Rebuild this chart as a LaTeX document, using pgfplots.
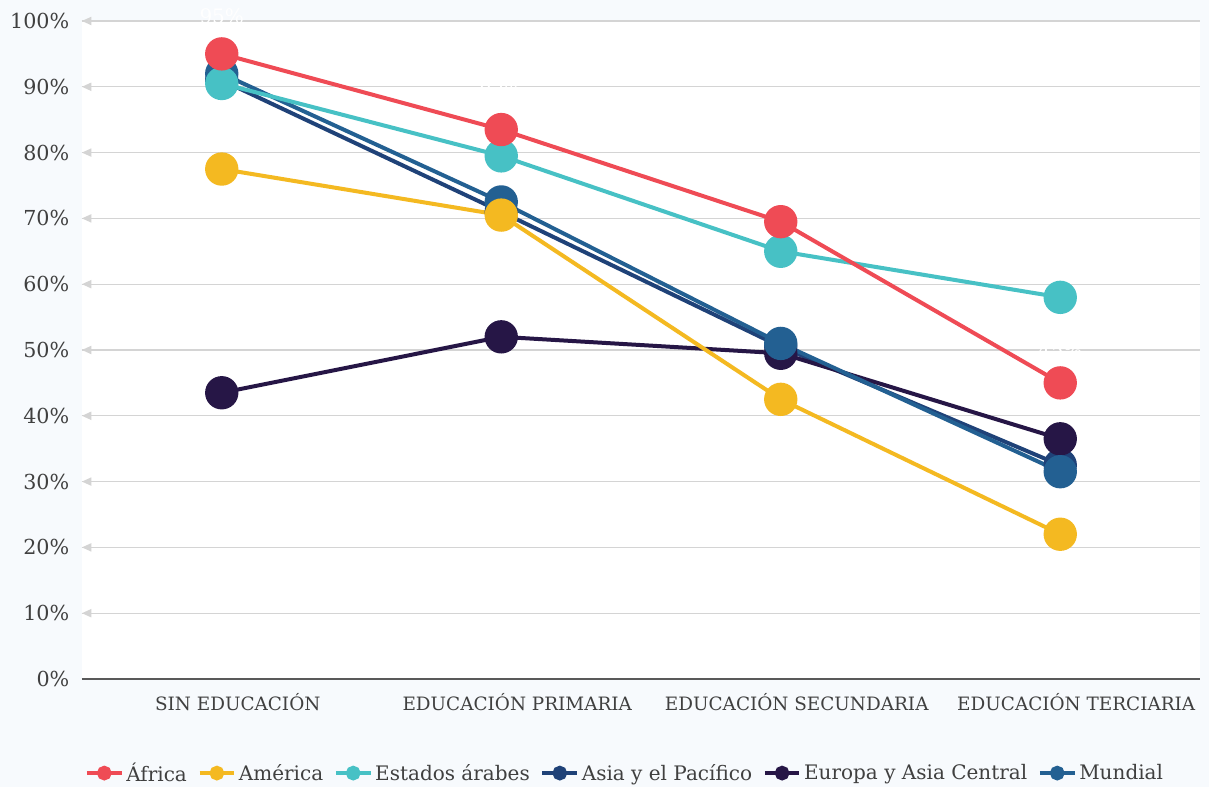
\documentclass[border=0pt]{standalone}
\usepackage{pgfplots}
\pgfplotsset{compat=1.18}
\usepackage{fontspec}
\setmainfont{DejaVu Serif}
\definecolor{bg}{HTML}{F7FAFD}
\definecolor{cAfr}{HTML}{EF4B55}
\definecolor{cAme}{HTML}{F4B921}
\definecolor{cEst}{HTML}{47C1C5}
\definecolor{cAsi}{HTML}{1F4278}
\definecolor{cEur}{HTML}{261646}
\definecolor{cMun}{HTML}{236092}
\definecolor{gridc}{HTML}{D4D4D4}
\definecolor{txt}{HTML}{404040}
\definecolor{axc}{HTML}{595959}
\begin{document}
\begin{tikzpicture}
\fill[bg] (0,0) rectangle (906.75pt,590.25pt);
\begin{axis}[
  at={(61.5pt,81pt)}, anchor=south west,
  scale only axis, width=838.5pt, height=493.5pt,
  xmin=-0.5, xmax=3.5, ymin=0, ymax=100,
  xtick={0,1,2,3},
  xticklabels={SIN EDUCACIÓN, EDUCACIÓN PRIMARIA, EDUCACIÓN SECUNDARIA, EDUCACIÓN TERCIARIA},
  ytick={0,10,...,100},
  yticklabel={\pgfmathprintnumber{\tick}\%},
  /pgf/number format/assume math mode=true,
  major tick length=0pt,
  axis background/.style={fill=white},
  axis x line*=bottom, axis y line*=left,
  x axis line style={draw=axc, line width=1.6pt, -},
  y axis line style={draw=none},
  ymajorgrids,
  major grid style={draw=gridc, line width=1pt},
  yticklabel style={font=\fontsize{15.5}{18}\selectfont, text=txt, xshift=-6pt},
  xticklabel style={font=\fontsize{13.8}{16}\selectfont, text=txt, yshift=-7pt, xshift=12pt},
  clip=false,
  legend style={at={(0.486,-0.143)}, anchor=center, draw=none, fill=none,
    legend columns=6, font=\fontsize{15}{18}\selectfont, text=txt,
    /tikz/every even column/.append style={column sep=6pt}, inner sep=0pt},
  legend cell align=left,
  legend image code/.code={
    \draw[line width=3pt] (0pt,0pt) -- (26pt,0pt);
    \fill (13pt,0pt) circle (4pt);
  },
  every axis plot/.append style={line width=3pt, mark=*, mark size=11pt, mark options={solid}},
]
\addlegendimage{cAfr}\addlegendentry{África}
\addlegendimage{cAme}\addlegendentry{América}
\addlegendimage{cEst}\addlegendentry{Estados árabes}
\addlegendimage{cAsi}\addlegendentry{Asia y el Pacífico}
\addlegendimage{cEur}\addlegendentry{Europa y Asia Central}
\addlegendimage{cMun}\addlegendentry{Mundial}
\foreach \y in {10,20,...,100} {
  \edef\temp{\noexpand\fill[gridc] (axis cs:-0.5,\y) -- ([xshift=7pt,yshift=3.2pt]axis cs:-0.5,\y) -- ([xshift=7pt,yshift=-3.2pt]axis cs:-0.5,\y) -- cycle;}
  \temp
}
% Asia y el Pacifico
\addplot[color=cAsi, forget plot] coordinates {(0,91) (1,71) (2,50.5) (3,32.5)};
% Europa y Asia Central
\addplot[color=cEur, forget plot] coordinates {(0,43.5) (1,52) (2,49.5) (3,36.5)};
% Mundial
\addplot[color=cMun, forget plot] coordinates {(0,92) (1,72.5) (2,51) (3,31.5)};
% America
\addplot[color=cAme, forget plot] coordinates {(0,77.5) (1,70.5) (2,42.5) (3,22)};
% Estados arabes
\addplot[color=cEst, forget plot] coordinates {(0,90.5) (1,79.5) (2,65) (3,58)};
% Africa
\addplot[color=cAfr, forget plot] coordinates {(0,95) (1,83.5) (2,69.5) (3,45)};
\node[text=white, font=\fontsize{15}{18}\selectfont] at (axis cs:0,100.8) {95\%};
\node[text=white, font=\fontsize{15}{18}\selectfont] at (axis cs:1,89.5) {83\%};
\node[text=white, font=\fontsize{15}{18}\selectfont] at (axis cs:3,50) {45\%};
\end{axis}
\pgfresetboundingbox
\path (0,0) rectangle (906.75pt,590.25pt);
\end{tikzpicture}
\end{document}
